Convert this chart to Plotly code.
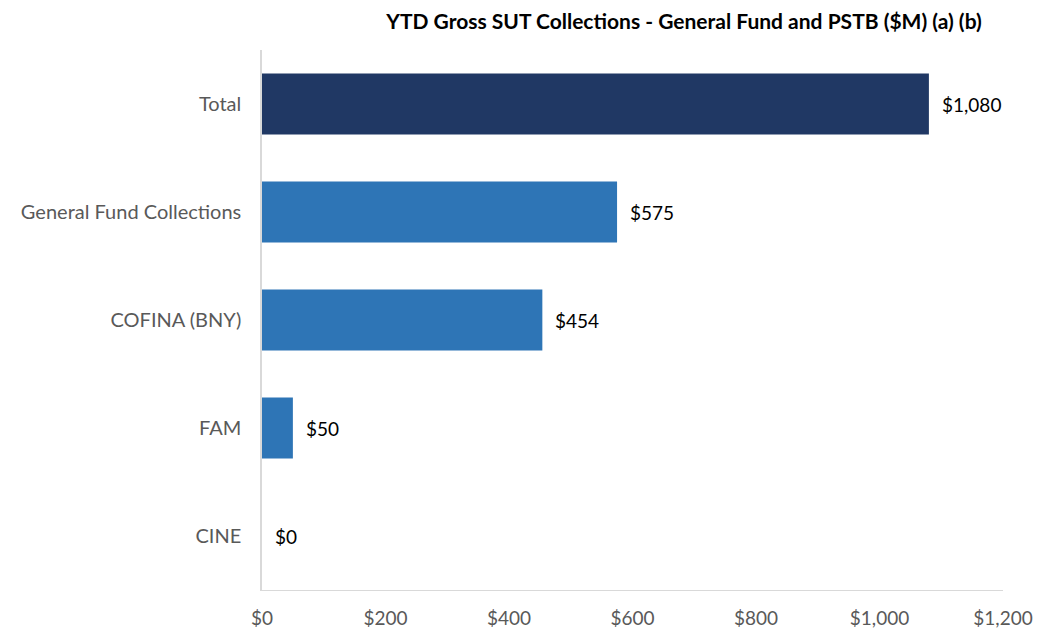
import plotly.graph_objects as go

categories = ["Total", "General Fund Collections", "COFINA (BNY)", "FAM", "CINE"]
values = [1080, 575, 454, 50, 0]
labels = ["$1,080", "$575", "$454", "$50", "$0"]
colors = ["#203864", "#2E75B6", "#2E75B6", "#2E75B6", "#2E75B6"]
x_ticks = [0, 200, 400, 600, 800, 1000, 1200]
x_ticktext = ["$0", "$200", "$400", "$600", "$800", "$1,000", "$1,200"]

FONT = "Lato, Carlito, Calibri, sans-serif"
OFF = 8  # page body margin offset

fig = go.Figure()
fig.add_trace(go.Bar(
    y=categories, x=values, orientation="h",
    marker=dict(color=colors, line=dict(width=0)),
    hoverinfo="skip",
))

for c, v, t in zip(categories, values, labels):
    fig.add_annotation(x=v, y=c, text=t, showarrow=False, xanchor="left",
                       xshift=11, font=dict(family=FONT, size=19, color="#000000"))

fig.update_layout(
    width=1055, height=632,
    margin=dict(l=262 - OFF, r=52 + OFF, t=50 - OFF, b=42 + OFF),
    paper_bgcolor="white", plot_bgcolor="white",
    bargap=0.435,
    showlegend=False,
    title=dict(text="<b>YTD Gross SUT Collections - General Fund and PSTB ($M) (a) (b)</b>",
               x=(684 - OFF) / 1055, xanchor="center", y=1 - 14 / 632, yanchor="middle",
               font=dict(family=FONT, size=21, color="#000000")),
    font=dict(family=FONT),
)
fig.update_xaxes(range=[0, 1200], tickvals=x_ticks, ticktext=x_ticktext,
                 showgrid=False, zeroline=False, showline=True, linecolor="#D9D9D9",
                 linewidth=1, ticks="", ticklabelstandoff=11, automargin=False,
                 tickfont=dict(family=FONT, size=19, color="#595959"))
fig.update_yaxes(autorange="reversed", showgrid=False, zeroline=False,
                 showline=True, linecolor="#D9D9D9", linewidth=1.5, ticks="",
                 ticklabelstandoff=15, automargin=False,
                 tickfont=dict(family=FONT, size=20, color="#595959"))

fig.write_html("out.html")
